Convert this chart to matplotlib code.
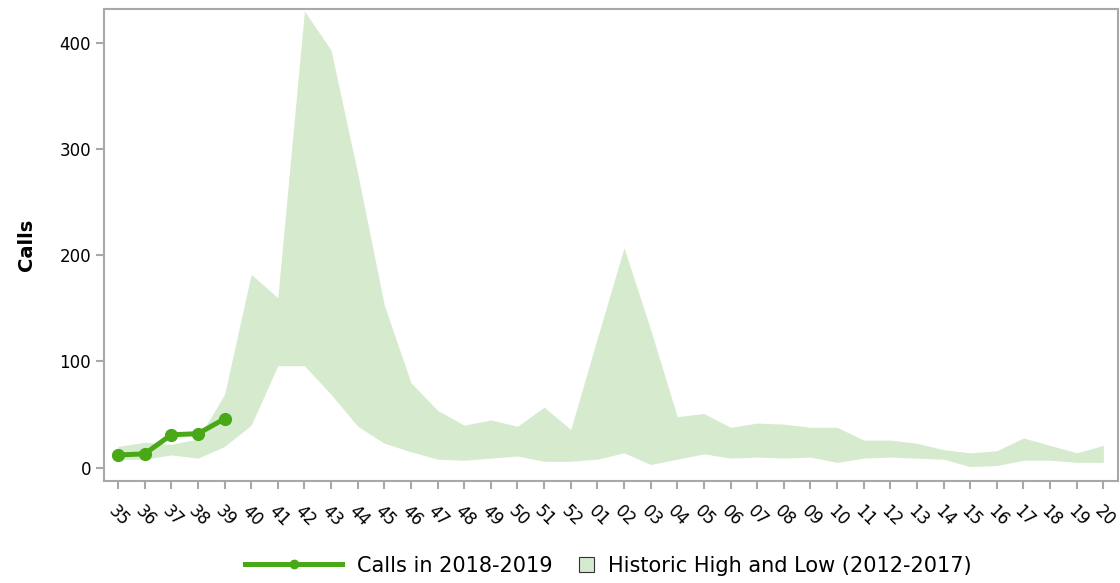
import matplotlib.pyplot as plt
import matplotlib.patches as mpatches
import matplotlib.lines as mlines
from matplotlib.legend_handler import HandlerPatch
import numpy as np

# epi weeks, season runs from week 35 to week 20
weeks = ['35', '36', '37', '38', '39', '40', '41', '42', '43', '44', '45', '46',
         '47', '48', '49', '50', '51', '52', '01', '02', '03', '04', '05', '06',
         '07', '08', '09', '10', '11', '12', '13', '14', '15', '16', '17', '18',
         '19', '20']

hist_high = [20, 24, 22, 27, 69, 182, 160, 430, 393, 277, 153, 80,
             54, 40, 45, 39, 57, 36, 122, 207, 130, 48, 51, 38,
             42, 41, 38, 38, 26, 26, 23, 17, 14, 16, 28, 21,
             14, 21]
hist_low = [8, 8, 12, 9, 20, 40, 96, 96, 69, 39, 23, 15,
            8, 7, 9, 11, 6, 6, 8, 14, 3, 8, 13, 9,
            10, 9, 10, 5, 9, 10, 9, 8, 1, 2, 7, 7,
            5, 5]

calls_current = [12, 13, 31, 32, 46]

band_color = '#d6ebce'
line_color = '#49a818'
axis_color = '#a8a8a8'


def square_patch(legend, orig_handle, xdescent, ydescent, width, height, fontsize):
    # small square box at the right end of the handle area
    side = 0.72 * fontsize
    return mpatches.Rectangle((width - side - xdescent, -ydescent + (height - side) / 2),
                              side, side)


x = np.arange(len(weeks))

fig = plt.figure(figsize=(11.2, 5.83), dpi=100)
ax = fig.add_axes([0.093, 0.175, 0.905, 0.81])

ax.fill_between(x, hist_low, hist_high, color=band_color, linewidth=0)
ax.plot(x[:len(calls_current)], calls_current, color=line_color, lw=3.6,
        marker='o', markersize=8.5, zorder=3)

ax.set_xlim(-0.52, len(weeks) - 0.46)
ax.set_ylim(-12.5, 432)
ax.set_yticks([0, 100, 200, 300, 400])
ax.set_xticks(x)
ax.set_xticklabels(weeks, rotation=-45, ha='left', va='top',
                   rotation_mode='anchor')

for sp in ax.spines.values():
    sp.set_color(axis_color)
    sp.set_linewidth(1.5)
ax.tick_params(axis='both', colors=axis_color, width=1.5, length=6,
               labelcolor='black', labelsize=12)
ax.tick_params(axis='x', pad=9)

ax.set_ylabel('Calls', fontsize=14, fontweight='bold', labelpad=17)

h_line = mlines.Line2D([], [], color=line_color, lw=3.6, marker='o',
                       markersize=6)
h_band = mpatches.Patch(facecolor=band_color, edgecolor='#333333', linewidth=0.8)
fig.legend([h_line, h_band],
           ['Calls in 2018-2019', 'Historic High and Low (2012-2017)'],
           handler_map={h_band: HandlerPatch(patch_func=square_patch)},
           loc='lower center', bbox_to_anchor=(0.543, -0.02), ncol=2,
           frameon=False, fontsize=15, handlelength=4.7, handleheight=0.8,
           columnspacing=-2.7, handletextpad=0.68)

fig.savefig('out.png', dpi=100)
